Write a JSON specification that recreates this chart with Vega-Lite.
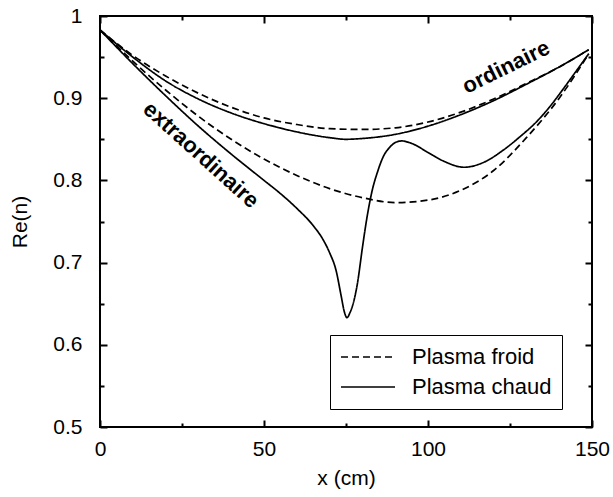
{
  "$schema": "https://vega.github.io/schema/vega-lite/v6.json",
  "width": 492,
  "height": 411,
  "autosize": {"type": "none"},
  "padding": {"left": 100, "top": 16, "right": 21, "bottom": 70},
  "background": "white",
  "config": {
    "view": {"stroke": "black", "strokeWidth": 2, "fill": null},
    "font": "Liberation Sans",
    "axis": {"labelFont": "Liberation Sans", "titleFont": "Liberation Sans", "labelFontSize": 21, "titleFontSize": 21, "titleFontWeight": "normal", "labelColor": "black", "titleColor": "black", "tickColor": "black", "grid": false, "domain": false, "ticks": true, "zindex": 2, "labelFlush": false}
  },
  "resolve": {"axis": {"x": "independent", "y": "independent"}},
  "layer": [
    {
      "data": {"values": [
        {"x": 0, "y": 0.983, "plasma": "Plasma froid", "mode": "ordinaire"},
        {"x": 10, "y": 0.952, "plasma": "Plasma froid", "mode": "ordinaire"},
        {"x": 20, "y": 0.927, "plasma": "Plasma froid", "mode": "ordinaire"},
        {"x": 30, "y": 0.906, "plasma": "Plasma froid", "mode": "ordinaire"},
        {"x": 40, "y": 0.889, "plasma": "Plasma froid", "mode": "ordinaire"},
        {"x": 50, "y": 0.876, "plasma": "Plasma froid", "mode": "ordinaire"},
        {"x": 60, "y": 0.868, "plasma": "Plasma froid", "mode": "ordinaire"},
        {"x": 70, "y": 0.863, "plasma": "Plasma froid", "mode": "ordinaire"},
        {"x": 80, "y": 0.862, "plasma": "Plasma froid", "mode": "ordinaire"},
        {"x": 90, "y": 0.864, "plasma": "Plasma froid", "mode": "ordinaire"},
        {"x": 100, "y": 0.871, "plasma": "Plasma froid", "mode": "ordinaire"},
        {"x": 110, "y": 0.883, "plasma": "Plasma froid", "mode": "ordinaire"},
        {"x": 120, "y": 0.899, "plasma": "Plasma froid", "mode": "ordinaire"},
        {"x": 130, "y": 0.918, "plasma": "Plasma froid", "mode": "ordinaire"},
        {"x": 140, "y": 0.938, "plasma": "Plasma froid", "mode": "ordinaire"},
        {"x": 149, "y": 0.959, "plasma": "Plasma froid", "mode": "ordinaire"},

        {"x": 0, "y": 0.983, "plasma": "Plasma chaud", "mode": "ordinaire"},
        {"x": 10, "y": 0.950, "plasma": "Plasma chaud", "mode": "ordinaire"},
        {"x": 20, "y": 0.921, "plasma": "Plasma chaud", "mode": "ordinaire"},
        {"x": 30, "y": 0.899, "plasma": "Plasma chaud", "mode": "ordinaire"},
        {"x": 40, "y": 0.882, "plasma": "Plasma chaud", "mode": "ordinaire"},
        {"x": 50, "y": 0.869, "plasma": "Plasma chaud", "mode": "ordinaire"},
        {"x": 60, "y": 0.859, "plasma": "Plasma chaud", "mode": "ordinaire"},
        {"x": 70, "y": 0.852, "plasma": "Plasma chaud", "mode": "ordinaire"},
        {"x": 75, "y": 0.850, "plasma": "Plasma chaud", "mode": "ordinaire"},
        {"x": 80, "y": 0.851, "plasma": "Plasma chaud", "mode": "ordinaire"},
        {"x": 90, "y": 0.856, "plasma": "Plasma chaud", "mode": "ordinaire"},
        {"x": 100, "y": 0.866, "plasma": "Plasma chaud", "mode": "ordinaire"},
        {"x": 110, "y": 0.880, "plasma": "Plasma chaud", "mode": "ordinaire"},
        {"x": 120, "y": 0.897, "plasma": "Plasma chaud", "mode": "ordinaire"},
        {"x": 130, "y": 0.917, "plasma": "Plasma chaud", "mode": "ordinaire"},
        {"x": 140, "y": 0.938, "plasma": "Plasma chaud", "mode": "ordinaire"},
        {"x": 149, "y": 0.959, "plasma": "Plasma chaud", "mode": "ordinaire"},

        {"x": 0, "y": 0.983, "plasma": "Plasma froid", "mode": "extraordinaire"},
        {"x": 10, "y": 0.945, "plasma": "Plasma froid", "mode": "extraordinaire"},
        {"x": 20, "y": 0.910, "plasma": "Plasma froid", "mode": "extraordinaire"},
        {"x": 30, "y": 0.878, "plasma": "Plasma froid", "mode": "extraordinaire"},
        {"x": 40, "y": 0.850, "plasma": "Plasma froid", "mode": "extraordinaire"},
        {"x": 50, "y": 0.826, "plasma": "Plasma froid", "mode": "extraordinaire"},
        {"x": 60, "y": 0.806, "plasma": "Plasma froid", "mode": "extraordinaire"},
        {"x": 70, "y": 0.790, "plasma": "Plasma froid", "mode": "extraordinaire"},
        {"x": 80, "y": 0.779, "plasma": "Plasma froid", "mode": "extraordinaire"},
        {"x": 90, "y": 0.773, "plasma": "Plasma froid", "mode": "extraordinaire"},
        {"x": 100, "y": 0.776, "plasma": "Plasma froid", "mode": "extraordinaire"},
        {"x": 110, "y": 0.788, "plasma": "Plasma froid", "mode": "extraordinaire"},
        {"x": 120, "y": 0.812, "plasma": "Plasma froid", "mode": "extraordinaire"},
        {"x": 130, "y": 0.852, "plasma": "Plasma froid", "mode": "extraordinaire"},
        {"x": 140, "y": 0.900, "plasma": "Plasma froid", "mode": "extraordinaire"},
        {"x": 149, "y": 0.954, "plasma": "Plasma froid", "mode": "extraordinaire"},

        {"x": 0, "y": 0.983, "plasma": "Plasma chaud", "mode": "extraordinaire"},
        {"x": 10, "y": 0.942, "plasma": "Plasma chaud", "mode": "extraordinaire"},
        {"x": 20, "y": 0.903, "plasma": "Plasma chaud", "mode": "extraordinaire"},
        {"x": 30, "y": 0.866, "plasma": "Plasma chaud", "mode": "extraordinaire"},
        {"x": 40, "y": 0.832, "plasma": "Plasma chaud", "mode": "extraordinaire"},
        {"x": 50, "y": 0.800, "plasma": "Plasma chaud", "mode": "extraordinaire"},
        {"x": 55, "y": 0.784, "plasma": "Plasma chaud", "mode": "extraordinaire"},
        {"x": 60, "y": 0.766, "plasma": "Plasma chaud", "mode": "extraordinaire"},
        {"x": 65, "y": 0.745, "plasma": "Plasma chaud", "mode": "extraordinaire"},
        {"x": 68, "y": 0.728, "plasma": "Plasma chaud", "mode": "extraordinaire"},
        {"x": 70, "y": 0.712, "plasma": "Plasma chaud", "mode": "extraordinaire"},
        {"x": 72, "y": 0.690, "plasma": "Plasma chaud", "mode": "extraordinaire"},
        {"x": 73.5, "y": 0.660, "plasma": "Plasma chaud", "mode": "extraordinaire"},
        {"x": 74.5, "y": 0.640, "plasma": "Plasma chaud", "mode": "extraordinaire"},
        {"x": 75.3, "y": 0.633, "plasma": "Plasma chaud", "mode": "extraordinaire"},
        {"x": 76.2, "y": 0.639, "plasma": "Plasma chaud", "mode": "extraordinaire"},
        {"x": 77.5, "y": 0.655, "plasma": "Plasma chaud", "mode": "extraordinaire"},
        {"x": 78.5, "y": 0.675, "plasma": "Plasma chaud", "mode": "extraordinaire"},
        {"x": 80, "y": 0.718, "plasma": "Plasma chaud", "mode": "extraordinaire"},
        {"x": 81.4, "y": 0.755, "plasma": "Plasma chaud", "mode": "extraordinaire"},
        {"x": 83, "y": 0.788, "plasma": "Plasma chaud", "mode": "extraordinaire"},
        {"x": 84.5, "y": 0.809, "plasma": "Plasma chaud", "mode": "extraordinaire"},
        {"x": 86.5, "y": 0.830, "plasma": "Plasma chaud", "mode": "extraordinaire"},
        {"x": 88.5, "y": 0.841, "plasma": "Plasma chaud", "mode": "extraordinaire"},
        {"x": 90, "y": 0.846, "plasma": "Plasma chaud", "mode": "extraordinaire"},
        {"x": 92, "y": 0.848, "plasma": "Plasma chaud", "mode": "extraordinaire"},
        {"x": 95, "y": 0.845, "plasma": "Plasma chaud", "mode": "extraordinaire"},
        {"x": 100, "y": 0.834, "plasma": "Plasma chaud", "mode": "extraordinaire"},
        {"x": 105, "y": 0.823, "plasma": "Plasma chaud", "mode": "extraordinaire"},
        {"x": 111, "y": 0.816, "plasma": "Plasma chaud", "mode": "extraordinaire"},
        {"x": 117, "y": 0.822, "plasma": "Plasma chaud", "mode": "extraordinaire"},
        {"x": 123, "y": 0.837, "plasma": "Plasma chaud", "mode": "extraordinaire"},
        {"x": 128, "y": 0.853, "plasma": "Plasma chaud", "mode": "extraordinaire"},
        {"x": 133, "y": 0.871, "plasma": "Plasma chaud", "mode": "extraordinaire"},
        {"x": 137, "y": 0.889, "plasma": "Plasma chaud", "mode": "extraordinaire"},
        {"x": 141, "y": 0.910, "plasma": "Plasma chaud", "mode": "extraordinaire"},
        {"x": 145, "y": 0.932, "plasma": "Plasma chaud", "mode": "extraordinaire"},
        {"x": 149, "y": 0.954, "plasma": "Plasma chaud", "mode": "extraordinaire"}
      ]},
      "mark": {"type": "line", "color": "black", "strokeWidth": 1.7, "interpolate": "monotone"},
      "encoding": {
        "x": {"field": "x", "type": "quantitative",
          "scale": {"domain": [0, 150], "nice": false, "zero": false},
          "axis": {"orient": "bottom", "title": "x (cm)", "titleColor": "black", "values": [0, 25, 50, 75, 100, 125, 150],
            "labelExpr": "datum.value % 50 === 0 ? datum.label : ''", "labelFlush": false, "zindex": 2,
            "tickSize": {"condition": {"test": "datum.value % 50 === 0", "value": -7}, "value": -4},
            "tickColor": "black", "tickWidth": 2, "labelPadding": 18, "titlePadding": 8}},
        "y": {"field": "y", "type": "quantitative",
          "scale": {"domain": [0.5, 1], "nice": false, "zero": false},
          "axis": {"orient": "left", "title": "Re(n)", "titleColor": "black", "values": [0.5, 0.55, 0.6, 0.65, 0.7, 0.75, 0.8, 0.85, 0.9, 0.95, 1],
            "labelExpr": "abs(datum.value * 10 - round(datum.value * 10)) < 0.001 ? format(datum.value, '~g') : ''", "labelFlush": false, "zindex": 2,
            "tickSize": {"condition": {"test": "abs(datum.value * 10 - round(datum.value * 10)) < 0.001", "value": -7}, "value": -4},
            "tickColor": "black", "tickWidth": 2, "labelPadding": 25, "titlePadding": 22}},
        "strokeDash": {"field": "plasma", "type": "nominal",
          "scale": {"domain": ["Plasma froid", "Plasma chaud"], "range": [[7, 4], [1, 0]]},
          "legend": {"title": null, "orient": "none", "legendX": 230, "legendY": 319,
            "symbolType": "stroke", "symbolSize": 2916, "symbolStrokeWidth": 1.6, "symbolStrokeColor": "black",
            "clipHeight": 24,
            "labelFontSize": 22, "labelFont": "Liberation Sans", "labelColor": "black", "labelOffset": 16,
            "strokeColor": "black", "fillColor": "white", "padding": 10, "rowPadding": 6, "cornerRadius": 0}},
        "detail": {"field": "mode", "type": "nominal"}
      }
    },
    {
      "data": {"values": [{"label": "extraordinaire", "x": 30.8, "y": 0.831}]},
      "mark": {"type": "text", "angle": 42, "fontSize": 22, "fontWeight": "bold", "font": "Liberation Sans", "align": "center", "baseline": "middle", "color": "black"},
      "encoding": {
        "x": {"field": "x", "type": "quantitative", "scale": {"domain": [0, 150], "nice": false, "zero": false},
          "axis": {"orient": "top", "title": null, "values": [0, 25, 50, 75, 100, 125, 150], "labels": false, "zindex": 2,
            "tickSize": {"condition": {"test": "datum.value % 50 === 0", "value": -7}, "value": -4}, "tickColor": "black", "tickWidth": 2}},
        "y": {"field": "y", "type": "quantitative", "scale": {"domain": [0.5, 1], "nice": false, "zero": false},
          "axis": {"orient": "right", "title": null, "values": [0.5, 0.55, 0.6, 0.65, 0.7, 0.75, 0.8, 0.85, 0.9, 0.95, 1], "labels": false, "zindex": 2,
            "tickSize": {"condition": {"test": "abs(datum.value * 10 - round(datum.value * 10)) < 0.001", "value": -7}, "value": -4}, "tickColor": "black", "tickWidth": 2}},
        "text": {"field": "label"}
      }
    },
    {
      "data": {"values": [{"label": "ordinaire", "x": 123.8, "y": 0.938}]},
      "mark": {"type": "text", "angle": -26, "fontSize": 22, "fontWeight": "bold", "font": "Liberation Sans", "align": "center", "baseline": "middle", "color": "black"},
      "encoding": {
        "x": {"field": "x", "type": "quantitative", "scale": {"domain": [0, 150], "nice": false, "zero": false}, "axis": null},
        "y": {"field": "y", "type": "quantitative", "scale": {"domain": [0.5, 1], "nice": false, "zero": false}, "axis": null},
        "text": {"field": "label"}
      }
    }
  ]
}
